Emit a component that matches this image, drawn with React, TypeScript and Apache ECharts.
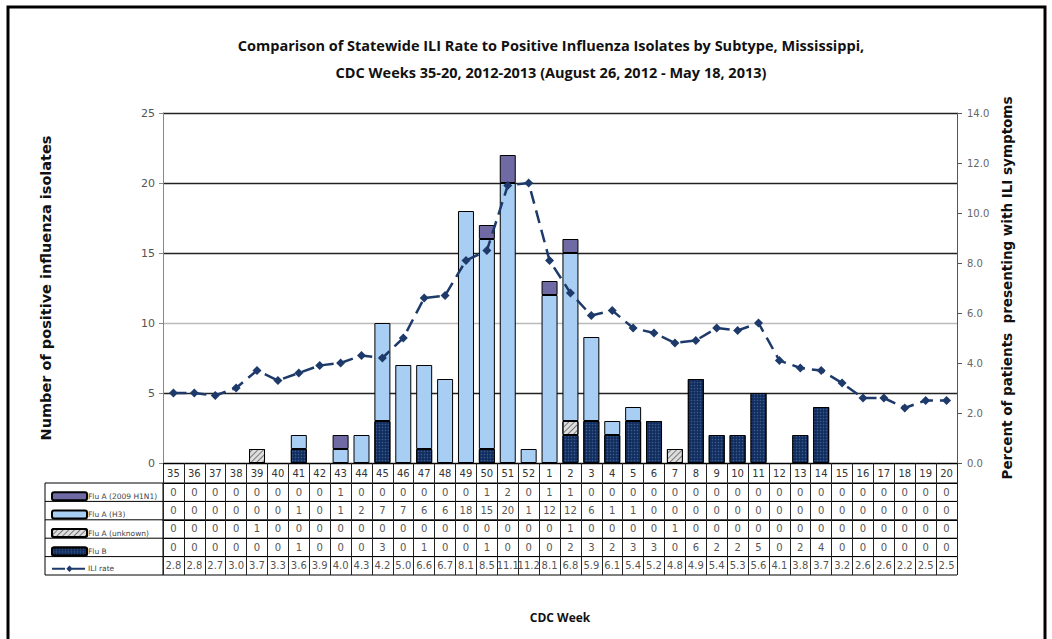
import React, { useEffect, useRef } from "react";
import * as echarts from "echarts";

const weeks = ["35","36","37","38","39","40","41","42","43","44","45","46","47","48","49","50","51","52","1","2","3","4","5","6","7","8","9","10","11","12","13","14","15","16","17","18","19","20"];
const fluAH1N1 = [0,0,0,0,0,0,0,0,1,0,0,0,0,0,0,1,2,0,1,1,0,0,0,0,0,0,0,0,0,0,0,0,0,0,0,0,0,0];
const fluAH3 = [0,0,0,0,0,0,1,0,1,2,7,7,6,6,18,15,20,1,12,12,6,1,1,0,0,0,0,0,0,0,0,0,0,0,0,0,0,0];
const fluAUnknown = [0,0,0,0,1,0,0,0,0,0,0,0,0,0,0,0,0,0,0,1,0,0,0,0,1,0,0,0,0,0,0,0,0,0,0,0,0,0];
const fluB = [0,0,0,0,0,0,1,0,0,0,3,0,1,0,0,1,0,0,0,2,3,2,3,3,0,6,2,2,5,0,2,4,0,0,0,0,0,0];
const iliRate = [2.8,2.8,2.7,3.0,3.7,3.3,3.6,3.9,4.0,4.3,4.2,5.0,6.6,6.7,8.1,8.5,11.1,11.2,8.1,6.8,5.9,6.1,5.4,5.2,4.8,4.9,5.4,5.3,5.6,4.1,3.8,3.7,3.2,2.6,2.6,2.2,2.5,2.5];

const NAME_H1N1 = "Flu A (2009 H1N1)";
const NAME_H3 = "Flu A (H3)";
const NAME_UNK = "Flu A (unknown)";
const NAME_B = "Flu B";
const NAME_ILI = "ILI rate";

const FONT = "'DejaVu Sans', sans-serif";
const nz = (arr: number[]) => arr.map((v) => (v === 0 ? null : v));

export default function App() {
  const ref = useRef<HTMLDivElement>(null);
  useEffect(() => {
    if (!ref.current) return;
    const chart = echarts.init(ref.current, null, { renderer: "svg" });

    const gridLeft = 163;
    const gridRightX = 957;
    const gridTop = 113;
    const gridBottomY = 463;
    const headerH = 20;
    const rowH = 18.4;
    const tableTop = gridBottomY + headerH;

    const tableRows: { name: string; vals: (number | string)[] }[] = [
      { name: NAME_H1N1, vals: fluAH1N1 },
      { name: NAME_H3, vals: fluAH3 },
      { name: NAME_UNK, vals: fluAUnknown },
      { name: NAME_B, vals: fluB },
      { name: NAME_ILI, vals: iliRate.map((v) => v.toFixed(1)) },
    ];

    const grids: any[] = [
      { left: gridLeft, right: 1052 - gridRightX, top: gridTop, height: gridBottomY - gridTop },
    ];
    const xAxes: any[] = [
      {
        type: "category",
        data: weeks,
        position: "bottom",
        gridIndex: 0,
        axisLine: { lineStyle: { color: "#000", width: 1 } },
        axisTick: { show: true, interval: 0, length: headerH, lineStyle: { color: "#222" } },
        axisLabel: { interval: 0, fontSize: 10, color: "#333", margin: 5, fontFamily: FONT },
      },
    ];
    const extraY: any[] = [];
    tableRows.forEach((row, k) => {
      const gi = k + 1;
      grids.push({ left: gridLeft, right: 1052 - gridRightX, top: tableTop + k * rowH, height: rowH });
      xAxes.push({
        type: "category",
        data: weeks,
        gridIndex: gi,
        position: "top",
        axisLine: { show: true, onZero: false, lineStyle: { color: "#000", width: 1 } },
        axisTick: { show: true, inside: true, interval: 0, length: rowH, lineStyle: { color: "#222" } },
        axisLabel: {
          inside: true,
          interval: 0,
          fontSize: 10,
          color: "#555",
          margin: 4,
          fontFamily: FONT,
          formatter: (_v: string, i: number) => String(row.vals[i]),
        },
        splitLine: { show: false },
      });
      extraY.push({ type: "value", gridIndex: gi, show: false, min: 0, max: 1 });
    });

    const legendRowCenters = tableRows.map((_, k) => tableTop + k * rowH + rowH / 2);

    const barCommon = {
      type: "bar",
      stack: "isolates",
      barWidth: 16,
      xAxisIndex: 0,
      yAxisIndex: 0,
    };

    chart.setOption({
      animation: false,
      backgroundColor: "#fff",
      title: [
        {
          text: "Comparison of Statewide ILI Rate to Positive Influenza Isolates by Subtype, Mississippi,\nCDC Weeks 35-20, 2012-2013 (August 26, 2012 - May 18, 2013)",
          left: 546,
          top: 27,
          textAlign: "center",
          textStyle: { fontSize: 14.5, fontWeight: "bold", color: "#111", lineHeight: 27, fontFamily: "'Open Sans', sans-serif" },
        },
        {
          text: "CDC Week",
          left: 555,
          top: 606,
          textAlign: "center",
          textStyle: { fontSize: 12, fontWeight: "bold", color: "#111", fontFamily: "'Open Sans', sans-serif" },
        },
      ],
      grid: grids,
      legend: tableRows.map((row, k) => ({
        data: [row.name],
        left: 46,
        top: legendRowCenters[k] - 6,
        itemWidth: 35,
        itemHeight: 8,
        itemGap: 2,
        selectedMode: false,
        textStyle: { fontSize: 7.5, color: "#444", fontFamily: FONT, padding: [0, 0, 0, -4] },
      })),
      xAxis: xAxes,
      yAxis: [
        {
          type: "value",
          gridIndex: 0,
          min: 0,
          max: 25,
          interval: 5,
          name: "Number of positive influenza isolates",
          nameLocation: "middle",
          nameGap: 110,
          nameTextStyle: { fontSize: 14.5, fontWeight: "bold", color: "#111", fontFamily: FONT },
          axisLine: { show: true, lineStyle: { color: "#888" } },
          axisTick: { show: true, length: 4, lineStyle: { color: "#888" } },
          axisLabel: { fontSize: 11, color: "#555", margin: 8, fontFamily: FONT },
          splitLine: { show: true, lineStyle: { color: ["#000", "#222", "#bbb", "#222", "#222", "#222"], width: 1.3 } },
        },
        {
          type: "value",
          gridIndex: 0,
          min: 0,
          max: 14,
          interval: 2,
          position: "right",
          name: "Percent of patients  presenting with ILI symptoms",
          nameLocation: "middle",
          nameGap: 42,
          nameRotate: 90,
          nameTextStyle: { fontSize: 13.5, fontWeight: "bold", color: "#111", fontFamily: FONT },
          axisLine: { show: true, lineStyle: { color: "#555" } },
          axisTick: { show: true, length: 5, lineStyle: { color: "#555" } },
          axisLabel: { fontSize: 10, color: "#666", margin: 10, fontFamily: FONT, formatter: (v: number) => v.toFixed(1) },
          splitLine: { show: false },
        },
        ...extraY,
      ],
      series: [
        {
          ...barCommon,
          name: NAME_B,
          data: nz(fluB),
          itemStyle: {
            color: "#112d5e",
            borderColor: "#000",
            borderWidth: 1,
            decal: { symbol: "circle", symbolSize: 0.5, dashArrayX: [3, 0], dashArrayY: [3, 0], color: "#3a5a8e" },
          },
        },
        {
          ...barCommon,
          name: NAME_UNK,
          data: nz(fluAUnknown),
          itemStyle: {
            color: "#dedede",
            borderColor: "#000",
            borderWidth: 1,
            decal: { symbol: "rect", dashArrayX: [1, 0], dashArrayY: [1, 3], rotation: -0.785, color: "#777" },
          },
        },
        {
          ...barCommon,
          name: NAME_H3,
          data: nz(fluAH3),
          itemStyle: { color: "#a8cef3", borderColor: "#000", borderWidth: 1 },
        },
        {
          ...barCommon,
          name: NAME_H1N1,
          data: nz(fluAH1N1),
          itemStyle: { color: "#6f6aa3", borderColor: "#000", borderWidth: 1 },
        },
        {
          type: "line",
          name: NAME_ILI,
          data: iliRate,
          xAxisIndex: 0,
          yAxisIndex: 1,
          symbol: "diamond",
          symbolSize: 9,
          itemStyle: { color: "#1d3a6b" },
          lineStyle: { color: "#1d3a6b", width: 2.5, type: [13, 7] },
          z: 5,
        },
      ],
      graphic: [
        {
          type: "rect",
          shape: { x: 8, y: 7, width: 1037, height: 660 },
          style: { fill: "none", stroke: "#000", lineWidth: 3 },
          silent: true,
        },
        {
          type: "line",
          shape: { x1: 45, y1: tableTop, x2: 45, y2: tableTop + 5 * rowH },
          style: { stroke: "#000", lineWidth: 1 },
          silent: true,
        },
        {
          type: "line",
          shape: { x1: gridLeft, y1: tableTop, x2: gridLeft, y2: tableTop + 5 * rowH },
          style: { stroke: "#000", lineWidth: 1 },
          silent: true,
        },
        ...[0, 1, 2, 3, 4, 5].map((k) => ({
          type: "line",
          shape: { x1: 45, y1: tableTop + k * rowH, x2: gridRightX, y2: tableTop + k * rowH },
          style: { stroke: "#000", lineWidth: 1 },
          silent: true,
        })),
      ],
    });
    return () => chart.dispose();
  }, []);
  return <div ref={ref} style={{ position: "absolute", left: 0, top: 0, width: 1052, height: 639 }} />;
}
